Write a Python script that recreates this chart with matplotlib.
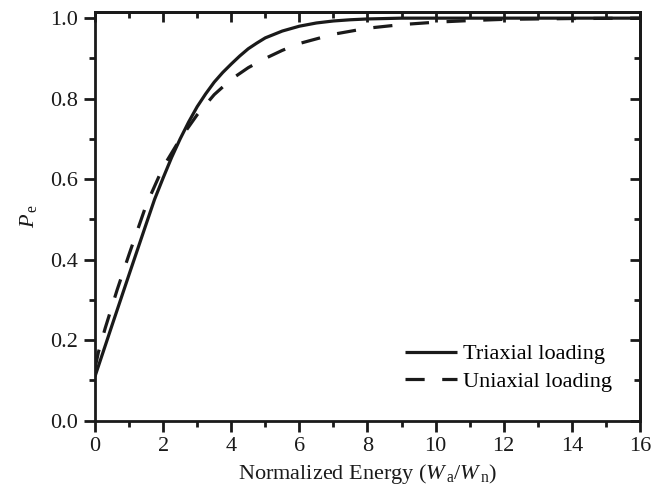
import matplotlib
matplotlib.use("Agg")
import matplotlib.pyplot as plt
from matplotlib.ticker import MultipleLocator

plt.rcParams['font.family'] = ['Liberation Serif', 'DejaVu Serif']
plt.rcParams['mathtext.fontset'] = 'custom'
plt.rcParams['mathtext.rm'] = 'Liberation Serif'
plt.rcParams['mathtext.it'] = 'Liberation Serif:italic'

# Data
tri_x = [0, 0.5, 1.0, 1.5, 1.75, 2.0, 2.25, 2.5, 2.75, 3.0, 3.25, 3.5, 3.75, 4.0, 4.25, 4.5, 4.75,
         5.0, 5.5, 6.0, 6.5, 7.0, 7.5, 8.0, 9.0, 10, 12, 14, 16]
tri_y = [0.11, 0.237, 0.363, 0.488, 0.55, 0.603, 0.654, 0.700, 0.742, 0.780, 0.812, 0.841, 0.865,
         0.886, 0.906, 0.924, 0.938, 0.951, 0.968, 0.980, 0.988, 0.993, 0.996, 0.998, 1.0, 1.0, 1.0, 1.0, 1.0]

uni_x = [0, 0.1, 0.3, 0.65, 1.0, 1.5, 2.0, 2.5, 3.0, 3.5, 4.0, 4.5, 5.0, 5.5, 6.0, 7.0, 8.0, 9.0,
         10, 11, 12, 14, 16]
uni_y = [0.13, 0.17, 0.23, 0.325, 0.413, 0.535, 0.63, 0.70, 0.76, 0.81, 0.848, 0.877, 0.90, 0.92,
         0.937, 0.96, 0.975, 0.984, 0.99, 0.994, 0.997, 0.999, 1.0]

x_ticks = [0, 2, 4, 6, 8, 10, 12, 14, 16]
y_ticks = [0.0, 0.2, 0.4, 0.6, 0.8, 1.0]

ink = '#1a1a1a'
fig = plt.figure(figsize=(6.68, 4.92), dpi=100)
ax = fig.add_axes([0.1422, 0.1449, 0.958 - 0.1422, 0.9762 - 0.1449])

ax.plot(tri_x, tri_y, color=ink, lw=2.3, solid_capstyle='butt', solid_joinstyle='round',
        label='Triaxial loading')
ax.plot(uni_x, uni_y, color=ink, lw=2.3, dashes=(6, 5.5), dash_capstyle='butt',
        label='Uniaxial loading')

ax.set_xlim(0, 16)
ax.set_ylim(0, 1.016)
ax.set_xticks(x_ticks)
ax.set_yticks(y_ticks)
ax.set_xticklabels([str(v) for v in x_ticks])
ax.set_yticklabels([f"{v:.1f}" for v in y_ticks])
ax.xaxis.set_minor_locator(MultipleLocator(1))
ax.yaxis.set_minor_locator(MultipleLocator(0.1))

for s in ax.spines.values():
    s.set_linewidth(2.0)
    s.set_color(ink)

ax.tick_params(which='major', direction='out', length=8, width=2, labelsize=16, colors=ink, pad=4)
ax.tick_params(which='minor', direction='out', length=4.5, width=2, colors=ink)

# mirrored ticks pointing inward on top and right
top = ax.secondary_xaxis('top')
top.set_xticks(x_ticks)
top.xaxis.set_minor_locator(MultipleLocator(1))
top.tick_params(which='major', direction='in', length=7, width=2, labeltop=False, colors=ink)
top.tick_params(which='minor', direction='in', length=4.5, width=2, colors=ink)
top.spines['top'].set_linewidth(2.0)
right = ax.secondary_yaxis('right')
right.set_yticks(y_ticks)
right.yaxis.set_minor_locator(MultipleLocator(0.1))
right.tick_params(which='major', direction='in', length=7, width=2, labelright=False, colors=ink)
right.tick_params(which='minor', direction='in', length=4.5, width=2, colors=ink)
right.spines['right'].set_linewidth(2.0)

ax.set_xlabel(r'Normalized Energy ($\mathit{W}_{\,\rm a}/\mathit{W}_{\,\rm n}$)', fontsize=16,
              color=ink, labelpad=4)
ax.set_ylabel(r'$\mathit{P}_{\,\rm e}$', fontsize=16, color=ink, labelpad=8)

leg = ax.legend(loc='upper left', bbox_to_anchor=(0.569, 0.188), frameon=False, fontsize=16,
                handlelength=2.34, handletextpad=0.27, labelspacing=0.3,
                borderpad=0, borderaxespad=0)

fig.savefig('out.png', dpi=100)
